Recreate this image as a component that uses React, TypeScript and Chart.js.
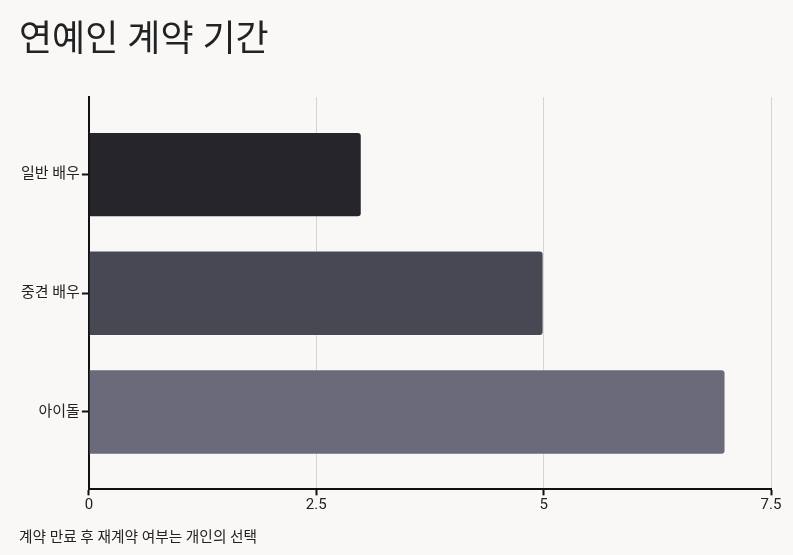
import React, { useEffect, useRef } from "react";
import { Chart, registerables } from "chart.js";

Chart.register(...registerables);

const categories = ["일반 배우", "중견 배우", "아이돌"];
const years = [3, 5, 7];
const barColors = ["#25252a", "#484854", "#6b6a7a"];
const xTicks = [0, 2.5, 5, 7.5];
const titleText = "연예인 계약 기간";
const footerText = "계약 만료 후 재계약 여부는 개인의 선택";

const FONT = "Roboto, 'Noto Sans CJK KR', 'Noto Sans', sans-serif";

export default function App() {
  const ref = useRef<HTMLCanvasElement | null>(null);

  useEffect(() => {
    document.body.style.margin = "0";
    document.body.style.background = "#f9f8f6";
    if (!ref.current) return;
    const chart = new Chart(ref.current, {
      type: "bar",
      data: {
        datasets: [
          {
            data: years.map((v, i) => ({ x: v, y: i })),
            backgroundColor: barColors,
            borderColor: "rgba(255,255,255,0.35)",
            borderWidth: 1,
            borderRadius: 4,
            borderSkipped: "start",
            barPercentage: 0.72,
            categoryPercentage: 1,
          },
        ],
      },
      options: {
        indexAxis: "y",
        animation: false,
        responsive: false,
        maintainAspectRatio: false,
        layout: { padding: { left: 19, right: 22, top: 20, bottom: 8 } },
        plugins: {
          legend: { display: false },
          tooltip: { enabled: false },
          title: {
            display: true,
            text: titleText,
            align: "start",
            color: "#222222",
            font: { family: FONT, size: 36, weight: "normal" },
            padding: { top: 0, bottom: 34 },
          },
          subtitle: {
            display: true,
            text: footerText,
            position: "bottom",
            align: "start",
            color: "#222222",
            font: { family: FONT, size: 14.7, weight: "normal" },
            padding: { top: 14, bottom: 0 },
          },
        },
        scales: {
          x: {
            type: "linear",
            min: 0,
            max: 7.5,
            afterBuildTicks: (axis: any) => {
              axis.ticks = xTicks.map((v) => ({ value: v }));
            },
            grid: {
              color: "#d4d4d4",
              lineWidth: 1,
              drawTicks: true,
              tickColor: "#111111",
              tickLength: 6,
              tickWidth: 2,
            },
            border: { display: true, color: "#111111", width: 2 },
            ticks: {
              color: "#222222",
              font: { family: FONT, size: 15 },
              padding: 1,
              maxRotation: 0,
            },
          },
          y: {
            type: "linear",
            reverse: true,
            offset: false,
            min: -0.6525,
            max: categories.length - 1 + 0.6525,
            afterBuildTicks: (axis: any) => {
              axis.ticks = categories.map((_, i) => ({ value: i }));
            },
            grid: {
              offset: false,
              drawOnChartArea: false,
              drawTicks: true,
              tickColor: "#111111",
              tickLength: 7,
              tickWidth: 2,
            },
            border: { display: true, color: "#111111", width: 2 },
            ticks: {
              color: "#222222",
              font: { family: FONT, size: 15 },
              padding: 2,
              callback: (v: any) => categories[Number(v)] ?? "",
            },
          },
        },
      },
    });
    return () => chart.destroy();
  }, []);

  return (
    <div style={{ width: 793, height: 555, background: "#f9f8f6" }}>
      <canvas ref={ref} width={793} height={555} style={{ display: "block" }} />
    </div>
  );
}
